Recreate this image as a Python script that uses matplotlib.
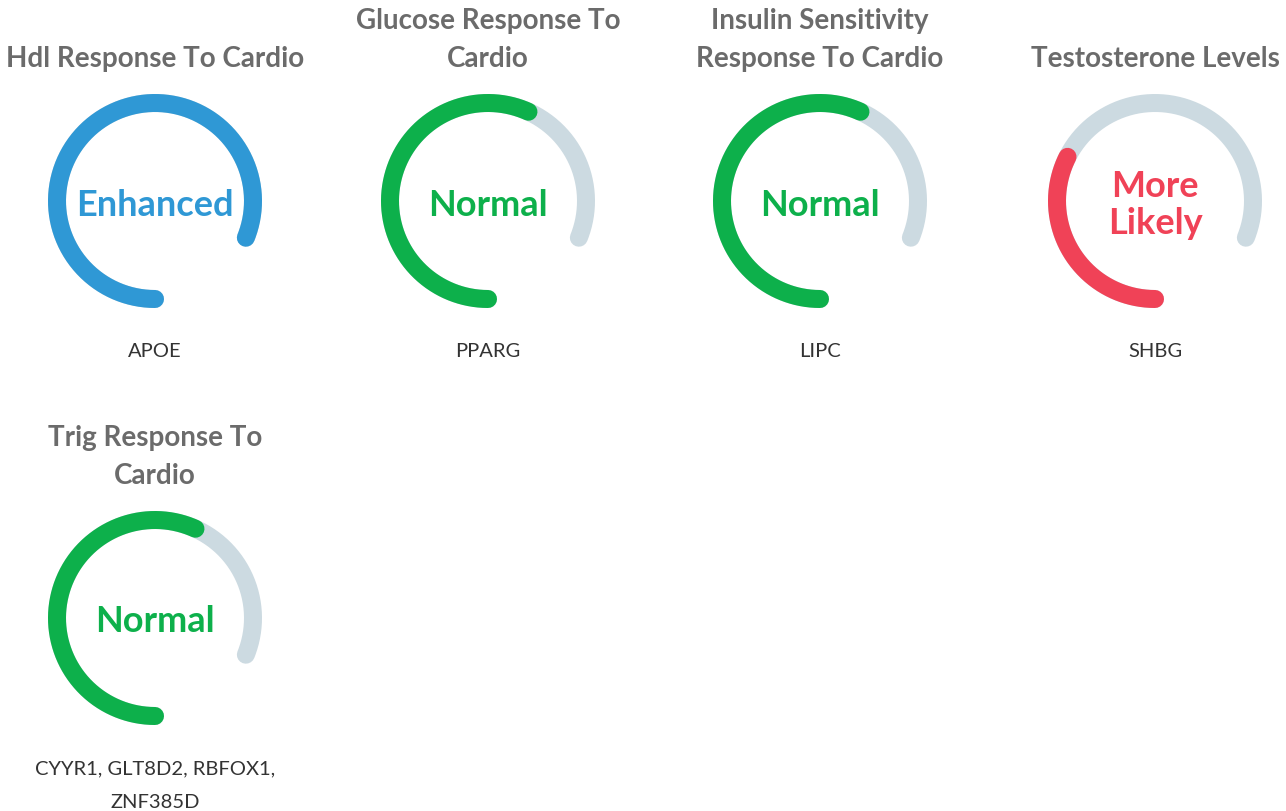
import numpy as np
import matplotlib
matplotlib.use("Agg")
import matplotlib.pyplot as plt

plt.rcParams['font.family'] = ['Lato', 'DejaVu Sans']

# gauge data
titles = ["Hdl Response To Cardio",
          "Glucose Response To\nCardio",
          "Insulin Sensitivity\nResponse To Cardio",
          "Testosterone Levels",
          "Trig Response To\nCardio"]
values = [100, 70, 70, 40, 70]
labels = ["Enhanced", "Normal", "Normal", "More\nLikely", "Normal"]
genes = ["APOE", "PPARG", "LIPC", "SHBG", "CYYR1, GLT8D2, RBFOX1,\nZNF385D"]
colors = ["#2f98d5", "#0db04b", "#0db04b", "#f04257", "#0db04b"]
track_color = "#ccdae1"
title_color = "#6b6b6b"

W, H = 1286, 811
fig = plt.figure(figsize=(W / 100, H / 100), dpi=100)
ax = fig.add_axes([0, 0, 1, 1])
ax.set_xlim(0, W)
ax.set_ylim(H, 0)
ax.set_aspect('equal')
ax.axis('off')

col_x = [155, 488, 820, 1155]
row_y = [201, 618]
R = 98
start = 270.0
sweep = 292.0
lw = 18 * 0.72


def arc(cx, cy, frac, color, z):
    th = np.radians(np.linspace(start, start - sweep * frac, 300))
    ax.plot(cx + R * np.cos(th), cy - R * np.sin(th), color=color, lw=lw,
            solid_capstyle='round', zorder=z)


for i, (t, v, lab, g, c) in enumerate(zip(titles, values, labels, genes, colors)):
    cx = col_x[i % 4]
    cy = row_y[i // 4]
    arc(cx, cy, 1.0, track_color, 1)
    arc(cx, cy, v / 100, c, 2)
    ax.text(cx, cy - 134, t, ha='center', va='baseline', fontsize=20,
            fontweight='bold', color=title_color, linespacing=1.58)
    ax.text(cx, cy + 4, lab, ha='center', va='center', fontsize=26,
            fontweight='bold', color=c, linespacing=1.18)
    ax.text(cx, cy + 142, g, ha='center', va='top', fontsize=14.5,
            fontweight='normal', color='#333333', linespacing=2.2)

fig.savefig("out.png", dpi=100)
